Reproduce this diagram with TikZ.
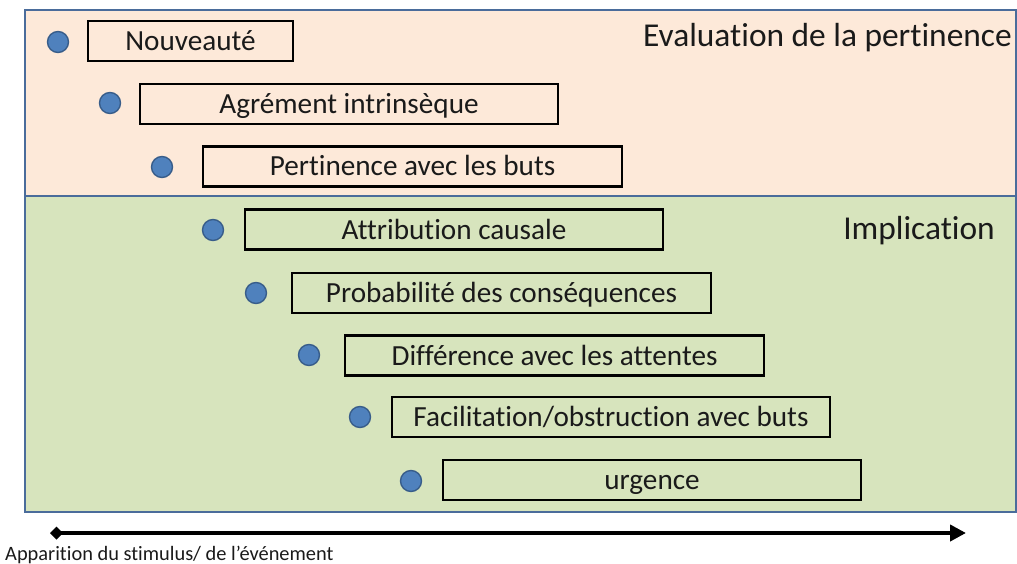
\documentclass[tikz,border=0pt]{standalone}
\usepackage{fontspec}
\setmainfont{Carlito}[Ligatures=NoCommon]
\definecolor{peach}{HTML}{FDE9D9}
\definecolor{sage}{HTML}{D7E4BD}
\definecolor{panelblue}{HTML}{4A6C9B}
\definecolor{dotfill}{HTML}{4F81BD}
\definecolor{dotrim}{HTML}{385D8A}
\definecolor{inkblack}{HTML}{1A1A1A}
\usepackage{tikz}
\usetikzlibrary{arrows.meta,positioning}

\begin{document}
\begin{tikzpicture}[x=1pt,y=-1pt,
    appraisal/.style={draw=black,line width=2.8pt,minimum height=40pt,inner sep=0pt,
      text height=22pt,text depth=3pt,text=inkblack,font=\fontsize{29.2}{33}\selectfont},
    onset/.style={circle,fill=dotfill,draw=dotrim,line width=1.4pt,minimum size=21pt,inner sep=0pt},
    phase/.style={text=inkblack,font=\fontsize{33.4}{38}\selectfont,anchor=base east,inner sep=0pt}]
  \useasboundingbox (0,0) rectangle (1017,564);
  % the two phases
  \draw[panelblue,line width=2pt,fill=peach] (25,10) rectangle (1016,196);
  \draw[panelblue,line width=2pt,fill=sage] (25,196) rectangle (1016,512);
  \node[phase] (relevance) at (1012,46.5) {Evaluation de la pertinence};
  \node[phase] (implication) at (995,240) {Implication};
  % checks, each one starting a little later
  \node[appraisal,minimum width=205pt] (novelty) at (190.5,41) {Nouveaut\'e};
  \node[appraisal,minimum width=418pt] (pleasant) at (349,104) {Agr\'ement intrins\`eque};
  \node[appraisal,minimum width=419pt] (goalrel) at (412.5,166.5) {Pertinence avec les buts};
  \node[appraisal,minimum width=418pt] (causal) at (454,229.5) {Attribution causale};
  \node[appraisal,minimum width=419pt] (outcome) at (501.5,293) {Probabilit\'e des cons\'equences};
  \node[appraisal,minimum width=419pt] (discrep) at (554.5,355.5) {Diff\'erence avec les attentes};
  \node[appraisal,minimum width=438pt] (conduc) at (611,417) {Facilitation/obstruction avec buts};
  \node[appraisal,minimum width=418pt] (urgency) at (652,480) {urgence};
  \node[onset] (d1) at (58,42) {};
  \node[onset] (d2) at (110,103) {};
  \node[onset] (d3) at (162,167) {};
  \node[onset] (d4) at (213,230) {};
  \node[onset] (d5) at (256,293) {};
  \node[onset] (d6) at (309,355) {};
  \node[onset] (d7) at (360,417) {};
  \node[onset] (d8) at (411,481) {};
  % time line
  \coordinate (tstart) at (50,533);
  \coordinate (tend) at (966,533);
  \draw[line width=4pt,{Diamond[length=13pt,width=13pt]}-{Triangle[length=16pt,width=16pt]}] (tstart) -- (tend);
  \node[text=inkblack,font=\fontsize{20.4}{24}\selectfont,anchor=base west,inner sep=0pt] (onsetlabel) at (5,560) {Apparition du stimulus/ de l’\'ev\'enement};
\end{tikzpicture}
\end{document}
